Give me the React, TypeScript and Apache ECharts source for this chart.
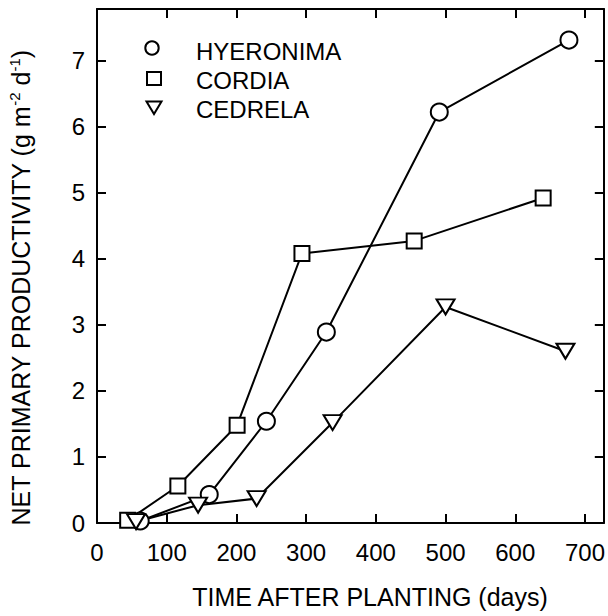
import React, { useEffect, useRef } from "react";
import * as echarts from "echarts";

const seriesNames = ["HYERONIMA", "CORDIA", "CEDRELA"];
const hyeronimaX = [62, 161, 243, 329, 491, 677];
const hyeronimaY = [0.03, 0.43, 1.54, 2.89, 6.22, 7.31];
const cordiaX = [44, 116, 201, 294, 455, 640];
const cordiaY = [0.04, 0.56, 1.48, 4.08, 4.27, 4.92];
const cedrelaX = [56, 145, 229, 338, 500, 672];
const cedrelaY = [0.02, 0.27, 0.37, 1.52, 3.27, 2.6];
const xTitle = "TIME AFTER PLANTING (days)";
const yTitleRich = "{a|NET PRIMARY PRODUCTIVITY (g m}{s|-2}{a| d}{s|-1}{a|)}";

const FONT = "'Liberation Sans', Arial, Helvetica, sans-serif";
const pair = (xs: number[], ys: number[]) => xs.map((x, i) => [x, ys[i]]);

export default function App() {
  const ref = useRef<HTMLDivElement>(null);
  useEffect(() => {
    if (!ref.current) return;
    const chart = echarts.init(ref.current, undefined, { renderer: "svg" });
    const axisLine = { show: true, onZero: false, lineStyle: { color: "#000", width: 2 } };
    const tick = { show: true, inside: true, length: 9, lineStyle: { color: "#000", width: 2 } };
    const labelStyle = { color: "#000", fontSize: 24, fontFamily: FONT };
    const markerStyle = { color: "#fff", borderColor: "#000", borderWidth: 2 };
    const legendMarkStyle = { fill: "#fff", stroke: "#000", lineWidth: 2 };
    const legendText = (text: string, y: number) => ({
      type: "text",
      x: 196,
      y,
      style: {
        text,
        fill: "#000",
        font: `24px ${FONT}`,
        textAlign: "left",
        textVerticalAlign: "middle",
      },
    });
    const common = {
      type: "line" as const,
      lineStyle: { color: "#000", width: 2 },
      itemStyle: markerStyle,
      showAllSymbol: true,
    };
    chart.setOption({
      animation: false,
      backgroundColor: "#fff",
      grid: { left: 97, right: 4, top: 9, bottom: 93, containLabel: false },
      xAxis: [
        {
          type: "value", min: 0, max: 727, interval: 100, position: "bottom",
          axisLine, axisTick: tick, splitLine: { show: false },
          axisLabel: { ...labelStyle, margin: 17, showMaxLabel: false },
        },
        {
          type: "value", min: 0, max: 727, interval: 100, position: "top",
          axisLine, axisTick: tick, splitLine: { show: false },
          axisLabel: { show: false },
        },
      ],
      yAxis: [
        {
          type: "value", min: 0, max: 7.78, interval: 1, position: "left",
          axisLine, axisTick: tick, splitLine: { show: false },
          axisLabel: { ...labelStyle, margin: 12, showMaxLabel: false },
        },
        {
          type: "value", min: 0, max: 7.78, interval: 1, position: "right",
          axisLine, axisTick: tick, splitLine: { show: false },
          axisLabel: { show: false },
        },
      ],
      graphic: [
        { type: "circle", shape: { cx: 152, cy: 48, r: 6.7 }, style: legendMarkStyle },
        { type: "rect", shape: { x: 147, y: 72, width: 14, height: 13 }, style: legendMarkStyle },
        { type: "polygon", shape: { points: [[146.5, 101.5], [161.5, 101.5], [154, 114]] }, style: legendMarkStyle },
        legendText(seriesNames[0], 51),
        legendText(seriesNames[1], 80),
        legendText(seriesNames[2], 109),
        {
          type: "text",
          x: 370,
          y: 597,
          style: {
            text: xTitle,
            fill: "#000",
            font: `25px ${FONT}`,
            textAlign: "center",
            textVerticalAlign: "middle",
          },
        },
        {
          type: "text",
          x: 21,
          y: 288,
          rotation: Math.PI / 2,
          style: {
            text: yTitleRich,
            fill: "#000",
            textAlign: "center",
            textVerticalAlign: "middle",
            rich: {
              a: { fontSize: 25, fontFamily: FONT, fill: "#000", lineHeight: 28 },
              s: { fontSize: 15, fontFamily: FONT, fill: "#000", verticalAlign: "top" },
            },
          },
        },
      ],
      series: [
        { ...common, name: seriesNames[0], data: pair(hyeronimaX, hyeronimaY), symbol: "circle", symbolSize: 17 },
        { ...common, name: seriesNames[1], data: pair(cordiaX, cordiaY), symbol: "rect", symbolSize: 15 },
        {
          ...common, name: seriesNames[2], data: pair(cedrelaX, cedrelaY),
          symbol: "triangle", symbolRotate: 180, symbolSize: [18, 15],
        },
      ],
    });
    return () => chart.dispose();
  }, []);
  return (
    <div
      ref={ref}
      style={{ position: "fixed", left: 0, top: 0, width: 608, height: 616 }}
    />
  );
}
